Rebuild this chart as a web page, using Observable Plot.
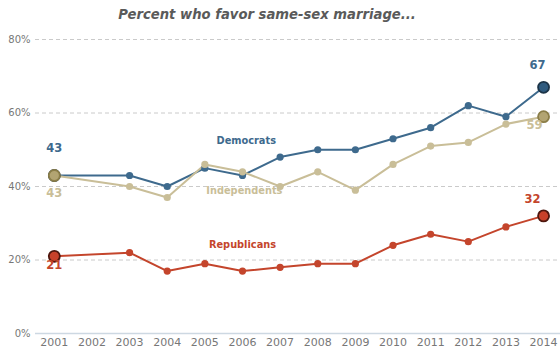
<!DOCTYPE html>
<html><head><meta charset="utf-8">
<script src="https://cdn.jsdelivr.net/npm/d3@7"></script>
<script src="https://cdn.jsdelivr.net/npm/@observablehq/plot@0.6"></script>
<style>
body{margin:0;background:#fff}
#wrap{position:relative;width:560px;height:349px}
#title{position:absolute;top:7px;left:-13px;width:560px;text-align:center;font:italic bold 13.2px "DejaVu Sans";color:#5a5a5a}
#chart{position:absolute;top:0;left:0}
</style>
</head><body>
<div id="wrap"><div id="chart"></div><div id="title">Percent who favor same-sex marriage...</div></div>
<script>
const years = [2001,2003,2004,2005,2006,2007,2008,2009,2010,2011,2012,2013,2014];
const democrats =   [43,43,40,45,43,48,50,50,53,56,62,59,67];
const independents =[43,40,37,46,44,40,44,39,46,51,52,57,59];
const republicans = [21,22,17,19,17,18,19,19,24,27,25,29,32];
const tickYears = [2001,2002,2003,2004,2005,2006,2007,2008,2009,2010,2011,2012,2013,2014];
const yTicks = [0,20,40,60,80];
const seriesNames = ["Democrats","Independents","Republicans"];

const colors = {Democrats:"#3e6a8d", Independents:"#c9be98", Republicans:"#c4452c"};
const endFill = {Democrats:"#2f5b7f", Independents:"#b2a472", Republicans:"#c8412a"};
const endStroke = {Democrats:"#1c3448", Independents:"#8a7d48", Republicans:"#4e170e"};
const textColor = {Democrats:"#3e6a8d", Independents:"#c9be98", Republicans:"#c4452c"};

const seriesVals = {Democrats:democrats, Independents:independents, Republicans:republicans};
const rows = seriesNames.flatMap(s => years.map((y,i) => ({series:s, year:y, value:seriesVals[s][i]})));
const ends = rows.filter(d => d.year === years[0] || d.year === years[years.length-1]);

const nameLabels = [
  {series:"Democrats", year:2006.1, value:52.5},
  {series:"Independents", year:2006.05, value:38.9},
  {series:"Republicans", year:2006.0, value:24.2}
];
const first = s => ({series:s, year:years[0], value:seriesVals[s][0]});
const last = s => ({series:s, year:years[years.length-1], value:seriesVals[s][years.length-1]});

const font = "DejaVu Sans";
const chart = Plot.plot({
  width:560, height:349,
  marginLeft:35, marginRight:0, marginTop:39, marginBottom:16,
  style:{fontFamily:font, background:"#fff"},
  x:{domain:[2000.5,2014.45], axis:null, label:null},
  y:{domain:[0,80], axis:null, label:null},
  marks:[
    Plot.ruleY(yTicks.filter(d=>d>0), {stroke:"#cacaca", strokeDasharray:"4,3", strokeWidth:1}),
    Plot.ruleY([0], {stroke:"#cdd8e2", strokeWidth:1.5}),
    Plot.axisY({ticks:yTicks, tickSize:0, tickPadding:5, tickFormat:d=>d+"%", fontSize:10, color:"#777", label:null}),
    Plot.axisX({ticks:tickYears, tickSize:0, tickPadding:5, tickFormat:d=>String(d), fontSize:11, color:"#777", label:null}),
    Plot.line(rows, {x:"year", y:"value", z:"series", stroke:d=>colors[d.series], strokeWidth:2}),
    Plot.dot(rows, {x:"year", y:"value", r:3.6, fill:d=>colors[d.series], stroke:"none"}),
    Plot.dot(ends, {x:"year", y:"value", r:5.5, fill:d=>endFill[d.series], stroke:d=>endStroke[d.series], strokeWidth:1.8}),
    Plot.text(nameLabels, {x:"year", y:"value", text:"series", fill:d=>textColor[d.series], fontSize:9.8, fontWeight:"bold"}),
    Plot.text([first("Democrats")], {x:"year", y:"value", text:"value", fill:textColor.Democrats, fontSize:11.5, fontWeight:"bold", dy:-27}),
    Plot.text([first("Independents")], {x:"year", y:"value", text:"value", fill:textColor.Independents, fontSize:11.5, fontWeight:"bold", dy:18}),
    Plot.text([first("Republicans")], {x:"year", y:"value", text:"value", fill:textColor.Republicans, fontSize:11.5, fontWeight:"bold", dy:9}),
    Plot.text([last("Democrats")], {x:"year", y:"value", text:"value", fill:textColor.Democrats, fontSize:11.5, fontWeight:"bold", dx:-6, dy:-22}),
    Plot.text([last("Independents")], {x:"year", y:"value", text:"value", fill:textColor.Independents, fontSize:11.5, fontWeight:"bold", dx:-9, dy:9}),
    Plot.text([last("Republicans")], {x:"year", y:"value", text:"value", fill:textColor.Republicans, fontSize:11.5, fontWeight:"bold", dx:-11, dy:-17})
  ]
});
document.getElementById("chart").appendChild(chart);
</script>
</body></html>
